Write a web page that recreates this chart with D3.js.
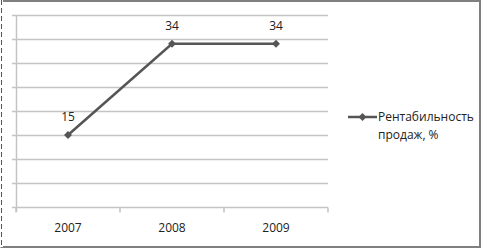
<!DOCTYPE html>
<html>
<head>
<meta charset="utf-8">
<script src="https://cdn.jsdelivr.net/npm/d3@7"></script>
<style>
    body { margin: 0; background: #fff; }
    text { font-family: "Open Sans", "Liberation Sans", sans-serif; fill: #222; }
</style>
</head>
<body>
<div id="chart"></div>
<script>
const years = ["2007", "2008", "2009"];
const values = [15, 34, 34];
const yTicks = [0, 5, 10, 15, 20, 25, 30, 35, 40];
const seriesName = ["Рентабильность", "продаж, %"];

const width = 482;
const height = 251;
const margin = {left: 16, right: 154, top: 15, bottom: 44};

const svg = d3.select("#chart")
    .append("svg")
    .attr("width", width)
    .attr("height", height);

// outer frame
svg.append("rect")
    .attr("x", 1.5).attr("y", 1)
    .attr("width", width - 3.5).attr("height", height - 5)
    .attr("fill", "#fff")
    .attr("stroke", "#7f7f7f")
    .attr("stroke-width", 2);
svg.append("line")
    .attr("x1", 1.5).attr("x2", 1.5)
    .attr("y1", 0).attr("y2", height - 4)
    .attr("stroke", "#fff")
    .attr("stroke-width", 3);
svg.append("line")
    .attr("x1", 1.5).attr("x2", 1.5)
    .attr("y1", 0).attr("y2", height - 4)
    .attr("stroke", "#555")
    .attr("stroke-width", 1)
    .attr("stroke-dasharray", "5,3");

const x = d3.scaleBand()
    .domain(years)
    .range([margin.left, width - margin.right]);

const y = d3.scaleLinear()
    .domain([0, 40])
    .range([height - margin.bottom, margin.top]);

// gridlines
svg.append("g")
    .selectAll("line")
    .data(yTicks.slice(1))
    .enter()
    .append("line")
    .attr("x1", margin.left - 4)
    .attr("x2", width - margin.right)
    .attr("y1", d => y(d) + 0.5)
    .attr("y2", d => y(d) + 0.5)
    .attr("stroke", "#c4c4c4")
    .attr("stroke-width", 1.5);

// y axis line
svg.append("line")
    .attr("x1", margin.left + 0.5).attr("x2", margin.left + 0.5)
    .attr("y1", y(40)).attr("y2", y(0) + 5)
    .attr("stroke", "#c4c4c4")
    .attr("stroke-width", 1.5);

// x axis
const xAxis = svg.append("g")
    .attr("transform", "translate(0," + (y(0) + 0.5) + ")")
    .call(d3.axisBottom(x).tickSize(0).tickPadding(16));
xAxis.select(".domain")
    .attr("d", "M" + (margin.left - 4) + ",0H" + (width - margin.right))
    .attr("stroke", "#c4c4c4")
    .attr("stroke-width", 1.5);
xAxis.selectAll("text")
    .style("font-size", "12px")
    .style("font-family", "'Open Sans', sans-serif")
    .attr("fill", "#222");
xAxis.selectAll(".tickmark")
    .data(years.concat(["end"]))
    .enter()
    .append("line")
    .attr("x1", d => d === "end" ? x.range()[1] : x(d))
    .attr("x2", d => d === "end" ? x.range()[1] : x(d))
    .attr("y1", 0).attr("y2", 5)
    .attr("stroke", "#c4c4c4")
    .attr("stroke-width", 1.5);

const cx = d => x(d) + x.bandwidth() / 2;

// series line
const line = d3.line()
    .x((d, i) => cx(years[i]))
    .y(d => y(d));

svg.append("path")
    .datum(values)
    .attr("d", line)
    .attr("fill", "none")
    .attr("stroke", "#555")
    .attr("stroke-width", 2.5);

const diamond = d3.symbol().type(d3.symbolDiamond2).size(40);

svg.selectAll(".marker")
    .data(values)
    .enter()
    .append("path")
    .attr("class", "marker")
    .attr("d", diamond)
    .attr("transform", (d, i) => "translate(" + cx(years[i]) + "," + y(d) + ")")
    .attr("fill", "#555");

// data labels
svg.selectAll(".label")
    .data(values)
    .enter()
    .append("text")
    .attr("class", "label")
    .attr("x", (d, i) => cx(years[i]))
    .attr("y", d => y(d) - 14)
    .attr("text-anchor", "middle")
    .style("font-size", "12px")
    .text(d => d);

// legend
const legend = svg.append("g").attr("transform", "translate(348,117)");
legend.append("line")
    .attr("x1", 0).attr("x2", 29)
    .attr("stroke", "#555")
    .attr("stroke-width", 2.5);
legend.append("path")
    .attr("d", diamond)
    .attr("transform", "translate(14.5,0)")
    .attr("fill", "#555");
legend.selectAll("text")
    .data(seriesName)
    .enter()
    .append("text")
    .attr("x", 30)
    .attr("y", (d, i) => i * 18 + 4)
    .style("font-size", "12px")
    .text(d => d);
</script>
</body>
</html>
